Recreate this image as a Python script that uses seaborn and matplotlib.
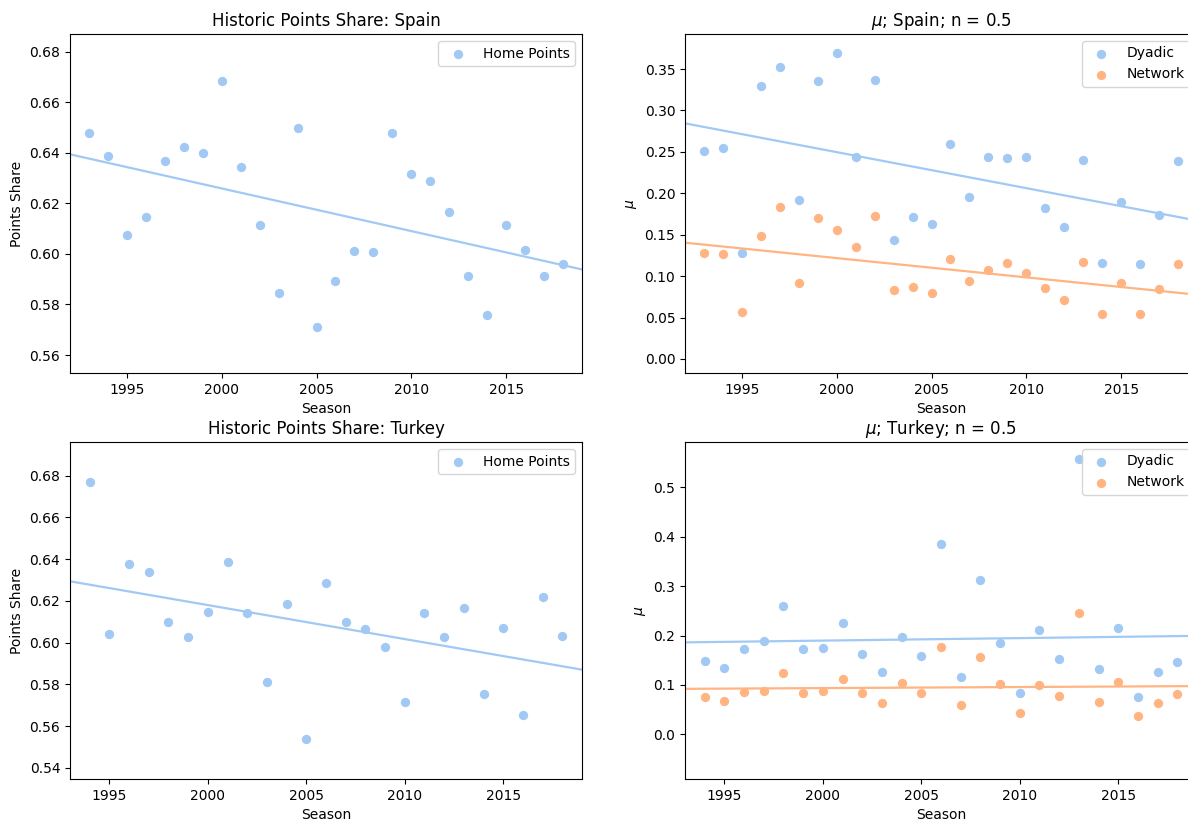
import numpy as np
import pandas as pd
import matplotlib
matplotlib.use("Agg")
import matplotlib.pyplot as plt
import seaborn as sns

# ---------------- data ----------------
spain_seasons = list(range(1993, 2019))
spain_home_points = [0.6479, 0.6388, 0.6075, 0.6148, 0.6368, 0.6424, 0.6401, 0.6685,
                     0.6343, 0.6116, 0.5847, 0.6500, 0.5711, 0.5893, 0.6012, 0.6008,
                     0.6478, 0.6316, 0.6290, 0.6166, 0.5912, 0.5760, 0.6116, 0.6015,
                     0.5912, 0.5962]
spain_dyadic = [0.2509, 0.2545, 0.1281, 0.3290, 0.3520, 0.1925, 0.3355, 0.3689,
                0.2433, 0.3371, 0.1442, 0.1716, 0.1631, 0.2590, 0.1957, 0.2437,
                0.2424, 0.2437, 0.1820, 0.1591, 0.2408, 0.1164, 0.1897, 0.1148,
                0.1740, 0.2384]
spain_network = [0.1277, 0.1265, 0.0564, 0.1486, 0.1832, 0.0914, 0.1704, 0.1559,
                 0.1353, 0.1732, 0.0834, 0.0874, 0.0801, 0.1208, 0.0942, 0.1079,
                 0.1156, 0.1035, 0.0858, 0.0713, 0.1168, 0.0540, 0.0914, 0.0540,
                 0.0846, 0.1148]

turkey_seasons = list(range(1994, 2019))
turkey_home_points = [0.6769, 0.6043, 0.6375, 0.6341, 0.6099, 0.6026, 0.6145, 0.6386,
                      0.6140, 0.5810, 0.6187, 0.5537, 0.6286, 0.6097, 0.6064, 0.5978,
                      0.5713, 0.6140, 0.6026, 0.6164, 0.5754, 0.6072, 0.5652, 0.6219,
                      0.6032]
turkey_dyadic = [0.1487, 0.1339, 0.1723, 0.1898, 0.2591, 0.1729, 0.1743, 0.2261,
                 0.1629, 0.1265, 0.1965, 0.1588, 0.3843, 0.1157, 0.3129, 0.1857,
                 0.0841, 0.2106, 0.1534, 0.5565, 0.1319, 0.2147, 0.0747, 0.1265,
                 0.1467]
turkey_network = [0.0754, 0.0673, 0.0861, 0.0868, 0.1252, 0.0834, 0.0875, 0.1124,
                  0.0841, 0.0639, 0.1030, 0.0841, 0.1777, 0.0592, 0.1568, 0.1016,
                  0.0424, 0.0996, 0.0787, 0.2456, 0.0659, 0.1070, 0.0370, 0.0626,
                  0.0808]

# ---------------- figure ----------------
pal = sns.color_palette("pastel")
blue, orange = pal[0], pal[1]

W, H = 1188, 823
fig = plt.figure(figsize=(W / 100, H / 100), dpi=100)

def px_axes(x0, y0, x1, y1):
    return fig.add_axes([x0 / W, 1 - y1 / H, (x1 - x0) / W, (y1 - y0) / H])

ax_sp = px_axes(70, 34, 582, 373)
ax_spm = px_axes(685, 34, 1197, 373)
ax_tr = px_axes(70, 442, 582, 779)
ax_trm = px_axes(685, 442, 1197, 779)

S = 45
def reg(ax, x, y, color):
    sns.regplot(x=x, y=y, ax=ax, ci=None, truncate=False, color=color,
                scatter_kws={"s": S, "alpha": 1.0, "linewidths": 0},
                line_kws={"lw": 1.6})

def legend(ax, labels):
    ax.legend(handles=list(ax.collections), labels=labels, loc="upper right")

# Spain points share
reg(ax_sp, spain_seasons, spain_home_points, blue)
ax_sp.set_xlim(1992, 2019)
ax_sp.set_ylim(0.5529, 0.687)
ax_sp.set_title("Historic Points Share: Spain", fontsize=12)
ax_sp.set_xlabel("Season")
ax_sp.set_ylabel("Points Share")
legend(ax_sp, ["Home Points"])

# Spain mu
reg(ax_spm, spain_seasons, spain_dyadic, blue)
reg(ax_spm, spain_seasons, spain_network, orange)
ax_spm.set_xlim(1992, 2019)
ax_spm.set_ylim(-0.0169, 0.3923)
ax_spm.set_title(r"$\mu$; Spain; n = 0.5", fontsize=12)
ax_spm.set_xlabel("Season")
ax_spm.set_ylabel(r"$\mu$")
legend(ax_spm, ["Dyadic", "Network"])

# Turkey points share
reg(ax_tr, turkey_seasons, turkey_home_points, blue)
ax_tr.set_xlim(1993, 2019)
ax_tr.set_ylim(0.5346, 0.6962)
ax_tr.set_title("Historic Points Share: Turkey", fontsize=12)
ax_tr.set_xlabel("Season")
ax_tr.set_ylabel("Points Share")
legend(ax_tr, ["Home Points"])

# Turkey mu
reg(ax_trm, turkey_seasons, turkey_dyadic, blue)
reg(ax_trm, turkey_seasons, turkey_network, orange)
ax_trm.set_xlim(1993, 2019)
ax_trm.set_ylim(-0.0902, 0.5915)
ax_trm.set_title(r"$\mu$; Turkey; n = 0.5", fontsize=12)
ax_trm.set_xlabel("Season")
ax_trm.set_ylabel(r"$\mu$")
legend(ax_trm, ["Dyadic", "Network"])

for ax in (ax_sp, ax_spm, ax_tr, ax_trm):
    ax.xaxis.set_major_locator(matplotlib.ticker.MultipleLocator(5))

fig.savefig("out.png", dpi=100)
